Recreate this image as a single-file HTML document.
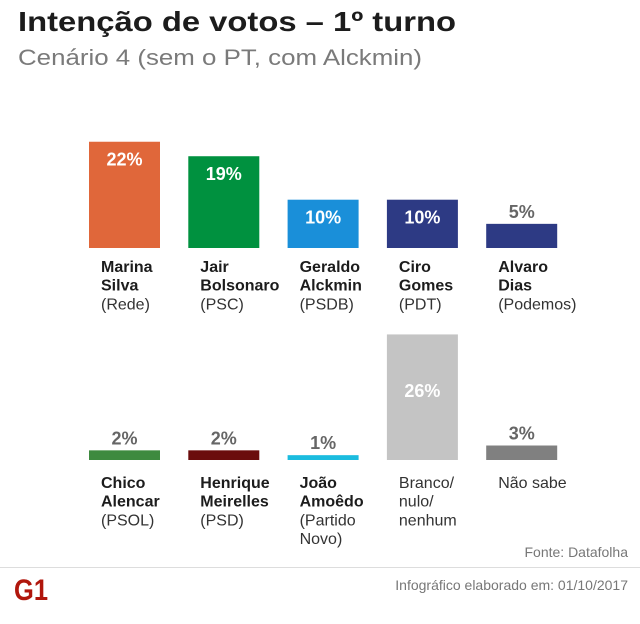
<!DOCTYPE html>
<html><head><meta charset="utf-8"><style>
body{margin:0;background:#fff;}
svg{display:block;font-family:"Liberation Sans",sans-serif;}
</style></head><body>
<svg id="chart" width="640" height="624" viewBox="0 0 640 624">
<text x="18" y="31" font-size="28" font-weight="bold" fill="#1c1c1c" textLength="438" lengthAdjust="spacingAndGlyphs">Intenção de votos – 1º turno</text>
<text x="18" y="65" font-size="22" fill="#7a7a7a" textLength="404" lengthAdjust="spacingAndGlyphs">Cenário 4 (sem o PT, com Alckmin)</text>
<text x="628" y="557" font-size="14" fill="#777" text-anchor="end">Fonte: Datafolha</text>
<line x1="0" y1="567.5" x2="640" y2="567.5" stroke="#ddd"/>
<text x="628" y="590" font-size="14" fill="#777" text-anchor="end">Infográfico elaborado em: 01/10/2017</text>
<g>
<text x="31" y="600" font-size="30" font-weight="bold" fill="#b0160c" text-anchor="middle" textLength="34" lengthAdjust="spacingAndGlyphs">G1</text>
</g>
<g id="bars"></g>
</svg>
<script>
const names1 = [["Marina","Silva","(Rede)"],["Jair","Bolsonaro","(PSC)"],["Geraldo","Alckmin","(PSDB)"],["Ciro","Gomes","(PDT)"],["Alvaro","Dias","(Podemos)"]];
const values1 = [22,19,10,10,5];
const colors1 = ["#e0673a","#00913f","#1a8fd9","#2d3a84","#2d3a84"];
const names2 = [["Chico","Alencar","(PSOL)"],["Henrique","Meirelles","(PSD)"],["João","Amoêdo","(Partido","Novo)"],["Branco/","nulo/","nenhum"],["Não sabe"]];
const values2 = [2,2,1,26,3];
const colors2 = ["#3e8a3f","#6b0d0d","#1bbcdf","#c4c4c4","#808080"];
const boldLines2 = [2,2,2,0,0];

const NS="http://www.w3.org/2000/svg";
const g=document.getElementById('bars');
const pxPerPct=4.83;
function yScale(base,v){return base - v*pxPerPct;}
function xPos(i){return 89 + i*99.3;}
function mk(tag,attrs){const e=document.createElementNS(NS,tag);for(const k in attrs)e.setAttribute(k,attrs[k]);g.appendChild(e);return e;}

function row(names,values,colors,base,labelY,boldCount){
  values.forEach((v,i)=>{
    const x=xPos(i), w=71, top=yScale(base,v), h=base-top;
    const r=mk('rect',{x:x,y:top,width:w,height:h,fill:colors[i]});
    
    
    const inside=h>30;
    const ly=inside?(h>115?top+h*0.5:top+24):top-6;
    const t=mk('text',{x:x+w/2,y:ly,'font-size':18,'font-weight':'bold','text-anchor':'middle',fill:inside?'#fff':'#666'});
    t.textContent=v+'%';
    
    
    const nb=boldCount[i];
    names[i].forEach((ln,j)=>{
      const tt=mk('text',{x:x+12,y:labelY+j*18.7,'font-size':16,'font-weight':j<nb?'bold':'normal',fill:j<nb?'#1c1c1c':'#333'});
      tt.textContent=ln;
      
      
    });
  });
}
row(names1,values1,colors1,248,272,[2,2,2,2,2]);
row(names2,values2,colors2,460,488,boldLines2);
</script>
</body></html>
